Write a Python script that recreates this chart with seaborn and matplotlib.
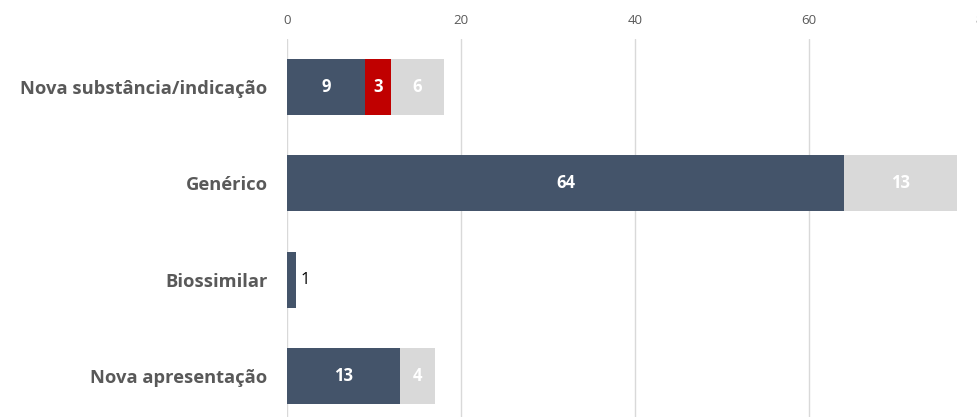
import matplotlib
matplotlib.use("Agg")
import matplotlib.pyplot as plt
import numpy as np
import pandas as pd
import seaborn as sns

categories = ["Nova substância/indicação", "Genérico", "Biossimilar", "Nova apresentação"]
dark_vals = [9, 64, 1, 13]
red_vals = [3, 0, 0, 0]
grey_vals = [6, 13, 0, 4]
x_ticks = [0, 20, 40, 60, 80]

dark_col = "#44546A"
red_col = "#C00000"
grey_col = "#D9D9D9"

df = pd.DataFrame({"cat": categories, "dark": dark_vals, "red": red_vals, "grey": grey_vals})
df["dark_red"] = df["dark"] + df["red"]
df["total"] = df["dark_red"] + df["grey"]

sns.set_style("white")
plt.rcParams["font.family"] = ["Open Sans", "DejaVu Sans"]

fig = plt.figure(figsize=(9.78, 4.17), dpi=100)
ax = fig.add_axes([287 / 978, -7 / 417, 696 / 978, 385 / 417])

# stacked bars: draw cumulative totals back to front
bar_h = 0.58
kw = dict(orient="h", width=bar_h, ax=ax, saturation=1, linewidth=0)
sns.barplot(data=df, y="cat", x="total", color=grey_col, **kw)
sns.barplot(data=df, y="cat", x="dark_red", color=red_col, **kw)
sns.barplot(data=df, y="cat", x="dark", color=dark_col, **kw)

ax.set_xlim(0, 80)
ax.set_ylim(3.5, -0.5)
ax.set_xticks(x_ticks)
ax.xaxis.tick_top()
ax.tick_params(axis="x", length=0, labelsize=9.5, colors="#595959", pad=9)
ax.tick_params(axis="y", length=0, pad=14)
ax.grid(axis="x", color="#D9D9D9", linewidth=1)
ax.set_axisbelow(True)
for s in ax.spines.values():
    s.set_visible(False)
ax.set_xlabel("")
ax.set_ylabel("")
for lab in ax.get_yticklabels():
    lab.set_fontweight("bold")
    lab.set_fontsize(13.2)
    lab.set_color("#595959")

# segment labels
for i in range(len(categories)):
    starts = [0, dark_vals[i], dark_vals[i] + red_vals[i]]
    vals = [dark_vals[i], red_vals[i], grey_vals[i]]
    for st, v in zip(starts, vals):
        if v == 0:
            continue
        if v < 2:
            ax.text(st + v + 0.6, i, str(v), ha="left", va="center", fontsize=12, color="black")
        else:
            ax.text(st + v / 2, i, str(v), ha="center", va="center", fontsize=12,
                    fontweight="bold", color="white")

fig.savefig("out.png", dpi=100)
